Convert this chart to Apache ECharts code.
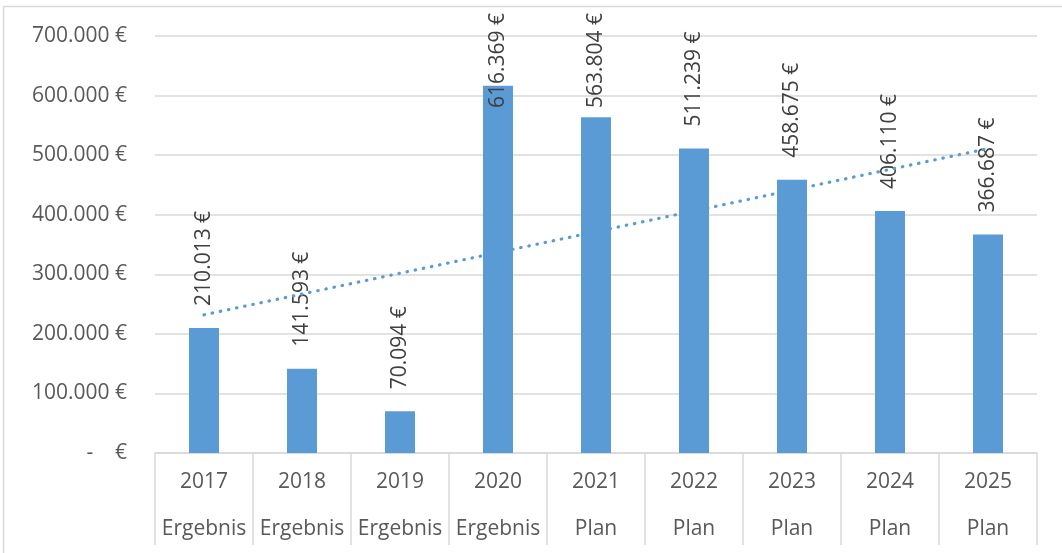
<!DOCTYPE html>
<html><head><meta charset="utf-8">
<script src="https://cdn.jsdelivr.net/npm/echarts@6/dist/echarts.min.js"></script>
<style>html,body{margin:0;padding:0;background:#fff}#c{width:1062px;height:553px}</style>
</head><body><div id="c"></div><script>
const years = ['2017','2018','2019','2020','2021','2022','2023','2024','2025'];
const kinds = ['Ergebnis','Ergebnis','Ergebnis','Ergebnis','Plan','Plan','Plan','Plan','Plan'];
const values = [210013,141593,70094,616369,563804,511239,458675,406110,366687];
const trend = [232000,'-','-','-','-','-','-','-',511000];

const FONT = 'Open Sans';
function eur(v){
  if (v === 0) return '-    €';
  return String(v).replace(/\B(?=(\d{3})+(?!\d))/g, '.') + ' €';
}
const chart = echarts.init(document.getElementById('c'), null, {renderer:'canvas'});
chart.setOption({
  animation: false,
  textStyle: {fontFamily: FONT},
  grid: {left: 155, right: 25, top: 36, bottom: 100},
  graphic: [{
    type: 'rect', silent: true,
    shape: {x: 3.5, y: 6.5, width: 1300, height: 800},
    style: {fill: 'none', stroke: '#d9d9d9', lineWidth: 1.5}
  }],
  xAxis: {
    type: 'category', data: years, boundaryGap: true,
    axisLine: {lineStyle: {color: '#d9d9d9', width: 1.5}},
    axisTick: {show: true, interval: 0, length: 92, lineStyle: {color: '#d9d9d9', width: 1.5}},
    axisLabel: {
      interval: 0, margin: 5.5, fontSize: 21, color: '#595959', fontFamily: FONT,
      lineHeight: 47,
      formatter: (v, i) => v + '\n' + kinds[i]
    }
  },
  yAxis: {
    type: 'value', min: 0, max: 700000, interval: 100000,
    axisLine: {show: false}, axisTick: {show: false},
    axisLabel: {formatter: eur, fontSize: 21, color: '#595959', margin: 28, fontFamily: FONT},
    splitLine: {lineStyle: {color: '#d9d9d9', width: 1.5}}
  },
  series: [{
    type: 'bar', data: values, barWidth: 30,
    itemStyle: {color: '#5b9bd5'},
    label: {
      show: true, position: 'top', distance: 22, rotate: 90,
      align: 'left', verticalAlign: 'middle',
      fontSize: 21, color: '#404040', fontFamily: FONT,
      formatter: p => eur(p.value)
    },
    labelLayout: function (params) {
      const r = params.labelRect;
      if (r.y < 13) return {y: 13 + r.height};
      return {};
    }
  }, {
    type: 'line', data: trend, connectNulls: true, symbol: 'none', silent: true, z: 3,
    lineStyle: {color: '#5b9bd5', width: 3.2, type: [0.5, 7.8], cap: 'round'}
  }]
});
</script></body></html>
